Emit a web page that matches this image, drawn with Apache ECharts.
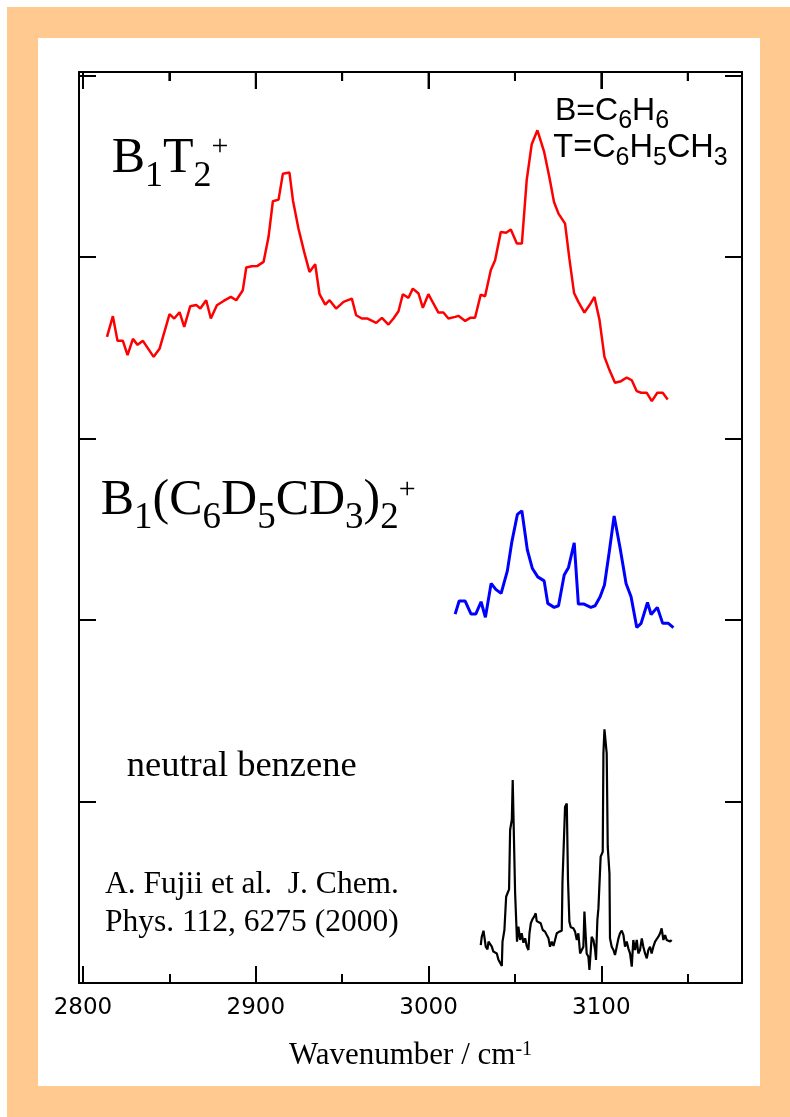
<!DOCTYPE html>
<html>
<head>
<meta charset="utf-8">
<script src="https://cdn.jsdelivr.net/npm/echarts@6/dist/echarts.min.js"></script>
<style>
  html, body { margin: 0; padding: 0; background: #ffffff; }
  #wrap { position: relative; width: 790px; height: 1117px; background: #ffffff; overflow: hidden; }
  #frame { position: absolute; left: 7px; top: 7px; width: 783px; height: 1110px; background: #FFC990; }
  #panel { position: absolute; left: 38px; top: 38px; width: 722px; height: 1048px; background: #ffffff; }
  #chart { position: absolute; left: 0; top: 0; width: 790px; height: 1117px; }
</style>
</head>
<body>
<div id="wrap">
  <div id="frame"></div>
  <div id="panel"></div>
  <div id="chart"></div>
</div>
<script>
// ---- data (wavenumber in cm^-1, intensity in offset units) ----
const xMajorTicks = [2800, 2900, 3000, 3100];
const xMinorTicks = [2850, 2950, 3050, 3150];
const yTicks = [0, 1, 2, 3, 4, 5];

const redX = [2813.9,2817.3,2820.0,2823.1,2825.8,2828.9,2831.6,2834.7,2840.9,2844.3,
  2850.1,2852.8,2855.9,2858.6,2862.1,2865.5,2867.9,2871.3,2874.0,2877.5,
  2881.4,2885.6,2888.7,2892.5,2894.5,2897.7,2901.0,2904.5,2907.4,2909.9,
  2913.2,2915.7,2919.5,2921.5,2924.7,2928.0,2931.1,2934.4,2936.9,2940.2,
  2942.7,2946.5,2950.8,2955.6,2958.1,2961.4,2964.7,2969.7,2973.0,2976.8,
  2979.7,2982.6,2985.1,2988.4,2990.9,2994.2,2996.7,2999.9,3002.8,3005.7,
  3008.6,3011.5,3015.4,3017.3,3021.2,3024.1,3026.9,3030.2,3032.7,3036.0,
  3038.5,3041.8,3044.9,3047.6,3051.1,3054.0,3056.8,3059.7,3063.0,3066.9,
  3069.9,3072.6,3075.2,3079.0,3081.5,3084.2,3086.7,3090.2,3093.1,3096.0,
  3098.9,3101.8,3104.7,3107.9,3111.4,3114.7,3117.6,3120.5,3123.0,3126.3,
  3129.2,3132.4,3135.5,3138.4];
const redY = [3.559,3.673,3.537,3.537,3.458,3.548,3.515,3.537,3.449,3.493,
  3.684,3.660,3.695,3.614,3.728,3.735,3.715,3.761,3.660,3.733,
  3.757,3.779,3.761,3.816,3.941,3.948,3.950,3.972,4.110,4.306,
  4.315,4.458,4.464,4.312,4.156,4.027,3.917,3.959,3.794,3.737,
  3.761,3.715,3.752,3.770,3.678,3.660,3.660,3.636,3.664,3.627,
  3.660,3.700,3.794,3.774,3.825,3.798,3.719,3.794,3.743,3.693,
  3.693,3.660,3.669,3.675,3.647,3.664,3.664,3.792,3.783,3.926,
  3.981,4.137,4.132,4.150,4.073,4.073,4.422,4.620,4.697,4.578,
  4.440,4.302,4.238,4.183,3.990,3.801,3.752,3.693,3.733,3.779,
  3.654,3.449,3.376,3.306,3.315,3.335,3.320,3.260,3.251,3.251,
  3.205,3.251,3.251,3.214];

const blueX = [3015.4,3017.7,3021.2,3024.6,3027.3,3030.4,3032.9,3036.2,3038.9,3042.0,
  3045.6,3048.2,3051.4,3054.0,3057.2,3060.1,3063.2,3066.9,3069.0,3072.7,
  3075.2,3078.5,3081.0,3084.3,3086.7,3090.0,3093.9,3096.4,3099.3,3101.8,
  3104.5,3107.4,3110.9,3114.3,3117.2,3120.5,3123.0,3126.7,3128.8,3132.4,
  3135.5,3138.8,3141.7];
const blueY = [2.032,2.104,2.104,2.032,2.032,2.100,2.014,2.201,2.168,2.146,
  2.270,2.430,2.581,2.601,2.384,2.283,2.237,2.215,2.091,2.069,
  2.078,2.247,2.289,2.425,2.087,2.087,2.069,2.078,2.127,2.192,
  2.370,2.572,2.393,2.201,2.127,1.958,1.981,2.096,2.030,2.069,
  1.981,1.981,1.958];

const blackX = [3030.2,3030.8,3031.8,3032.7,3033.1,3034.1,3034.7,3035.6,3036.6,3037.5,
  3038.5,3039.5,3040.4,3041.4,3042.4,3042.8,3043.3,3043.9,3044.7,3044.9,
  3045.8,3046.6,3047.2,3048.2,3048.7,3049.5,3050.1,3050.7,3051.2,3052.0,
  3053.0,3053.9,3054.9,3055.9,3056.8,3057.8,3058.4,3059.2,3060.1,3061.1,
  3062.0,3062.6,3063.6,3064.9,3066.1,3067.4,3068.4,3069.4,3070.3,3071.3,
  3072.3,3073.2,3074.2,3075.7,3077.1,3077.5,3078.4,3079.0,3080.0,3080.7,
  3081.5,3082.3,3083.8,3084.8,3085.8,3086.7,3087.7,3088.7,3089.6,3090.2,
  3091.0,3091.5,3092.5,3093.1,3093.9,3094.4,3095.4,3096.4,3096.9,3097.7,
  3098.3,3099.3,3099.6,3100.8,3101.2,3101.8,3102.7,3103.1,3103.7,3104.7,
  3105.0,3106.0,3107.0,3107.9,3108.9,3109.9,3110.8,3111.8,3112.8,3113.7,
  3114.7,3115.6,3116.6,3117.6,3118.5,3119.5,3120.5,3121.4,3122.4,3123.4,
  3124.3,3125.3,3126.3,3127.2,3128.2,3129.1,3130.1,3131.1,3132.0,3133.0,
  3134.0,3134.9,3135.9,3136.9,3137.8,3138.8,3139.8,3140.7];
const blackY = [0.209,0.255,0.288,0.296,0.200,0.185,0.228,0.218,0.200,0.173,
  0.182,0.163,0.130,0.141,0.094,0.228,0.237,0.292,0.296,0.475,
  0.497,0.516,0.843,0.901,1.118,1.112,0.494,0.494,0.228,0.310,
  0.237,0.274,0.222,0.246,0.204,0.182,0.274,0.329,0.351,0.365,
  0.384,0.341,0.347,0.329,0.292,0.283,0.264,0.246,0.200,0.228,
  0.204,0.237,0.274,0.283,0.288,0.558,0.567,0.971,0.989,0.567,
  0.338,0.307,0.301,0.283,0.237,0.274,0.163,0.154,0.200,0.393,
  0.393,0.163,0.145,0.072,0.182,0.255,0.237,0.182,0.127,0.347,
  0.411,0.420,0.696,0.723,1.265,1.397,1.390,1.265,0.751,0.604,
  0.246,0.200,0.182,0.154,0.200,0.246,0.274,0.288,0.264,0.200,
  0.228,0.191,0.163,0.090,0.237,0.182,0.237,0.163,0.182,0.246,
  0.200,0.163,0.136,0.182,0.200,0.163,0.200,0.228,0.218,0.255,
  0.274,0.301,0.237,0.264,0.237,0.246,0.228,0.237];

// ---- chart ----
const X_MIN = 2797.7, X_MAX = 3181.4, Y_MIN = 0, Y_MAX = 5.018;
const pairs = (xs, ys) => xs.map((x, i) => [x, ys[i]]);

const SERIF = 'Liberation Serif';
const SANS = 'Liberation Sans';
function txt(str, x, base, size, fam) {
  return {
    type: 'text', x: x, y: base - 0.33 * size, z: 100,
    style: { text: str, fontSize: size, fontFamily: fam, fill: '#000',
             align: 'left', verticalAlign: 'middle' }
  };
}
const mctx = document.createElement('canvas').getContext('2d');
function run(x0, base, fam, pieces) {
  let x = x0;
  const out = [];
  pieces.forEach(([t, size, dy]) => {
    out.push(txt(t, x, base + dy, size, fam));
    mctx.font = size + 'px "' + fam + '"';
    x += mctx.measureText(t).width;
  });
  return out;
}

const GRID_LEFT = 79, GRID_RIGHT = 48, PLOT_TOP = 72, CHART_W = 790;
const mainBox = { left: GRID_LEFT, right: GRID_RIGHT, top: PLOT_TOP, bottom: 134 };
const lineOn = () => ({ show: true, onZero: false, lineStyle: { color: '#000', width: 2 } });
const lineOff = () => ({ show: false, onZero: false });

function xAx(gridIndex, position, showLine, ticks, len, withLabels) {
  return {
    type: 'value', gridIndex: gridIndex, position: position,
    min: X_MIN, max: X_MAX,
    axisLine: showLine ? lineOn() : lineOff(),
    axisTick: { show: len > 0, inside: true, length: len, customValues: ticks.slice(),
                lineStyle: { color: '#000', width: 2 } },
    axisLabel: withLabels ? { show: true, customValues: ticks.slice(), margin: 14,
                formatter: v => String(v),
                fontFamily: 'DejaVu Sans', fontSize: 23, color: '#000' } : { show: false },
    splitLine: { show: false },
    name: withLabels ? '{a|Wavenumber / cm}{b|-1}' : '',
    nameLocation: 'middle', nameGap: 57,
    nameTextStyle: {
      rich: {
        a: { fontFamily: SERIF, fontSize: 31, color: '#000' },
        b: { fontFamily: SERIF, fontSize: 20, color: '#000', verticalAlign: 'top' }
      }
    }
  };
}
function yAx(gridIndex, position, show) {
  return {
    type: 'value', gridIndex: gridIndex, position: position,
    min: Y_MIN, max: Y_MAX,
    axisLine: show ? lineOn() : lineOff(),
    axisTick: { show: show, inside: true, length: 17, customValues: yTicks.slice(),
                lineStyle: { color: '#000', width: 2 } },
    axisLabel: { show: false },
    splitLine: { show: false }
  };
}

// top-frame ticks (decoration of the frame): x positions from the same linear x scale
const plotW = CHART_W - GRID_LEFT - GRID_RIGHT;
const xToPx = v => GRID_LEFT + (v - X_MIN) / (X_MAX - X_MIN) * plotW;
function topTickEls(values, lenPx) {
  return values.map(v => ({
    type: 'line', z: 100, silent: true,
    shape: { x1: xToPx(v), y1: PLOT_TOP, x2: xToPx(v), y2: PLOT_TOP + lenPx },
    style: { stroke: '#000', lineWidth: 2 }
  }));
}

const graphics = [].concat(
  topTickEls(xMajorTicks, 17),
  topTickEls(xMinorTicks, 9),
  // B1T2+
  run(111.7, 175, SERIF, [['B', 50, 0], ['1', 36, 13], ['T', 50, 0], ['2', 36, 13], ['+', 30, -17.5]]),
  // B=C6H6 / T=C6H5CH3
  run(555, 121.7, SANS, [['B=C', 32, 0], ['6', 25, 7.8], ['H', 32, 0], ['6', 25, 7.8]]),
  run(553.3, 158.3, SANS, [['T=C', 32.5, 0], ['6', 25, 7.8], ['H', 32.5, 0], ['5', 25, 7.8],
                           ['CH', 32.5, 0], ['3', 25, 7.8]]),
  // B1(C6D5CD3)2+
  run(100.7, 517.3, SERIF, [['B', 50, 0], ['1', 37, 12.7], ['(C', 50, 0], ['6', 37, 12.7],
                            ['D', 50, 0], ['5', 37, 12.7], ['CD', 50, 0], ['3', 37, 12.7],
                            [')', 50, 0], ['2', 37, 12.7], ['+', 30, -16.8]]),
  [
    txt('neutral benzene', 126.7, 778.3, 36.5, SERIF),
    txt('A. Fujii et al.  J. Chem.', 105, 895, 31.5, SERIF),
    txt('Phys. 112, 6275 (2000)', 105, 933.3, 31.5, SERIF)
  ]
);

const chart = echarts.init(document.getElementById('chart'), null, { renderer: 'canvas' });
chart.setOption({
  animation: false,
  backgroundColor: 'transparent',
  grid: [Object.assign({}, mainBox), Object.assign({}, mainBox)],
  xAxis: [
    xAx(0, 'bottom', true, xMajorTicks, 17, true),   // bottom frame, major ticks + labels
    xAx(0, 'top', true, xMajorTicks, 17, false),     // top frame line (+ ticks if drawn)
    xAx(1, 'bottom', false, xMinorTicks, 9, false),  // bottom frame, minor ticks
    xAx(1, 'top', false, xMinorTicks, 9, false)
  ],
  yAxis: [yAx(0, 'left', true), yAx(0, 'right', true), yAx(1, 'left', false), yAx(1, 'right', false)],
  series: [
    { name: 'B1T2+', type: 'line', xAxisIndex: 0, yAxisIndex: 0, data: pairs(redX, redY),
      showSymbol: false, lineStyle: { color: '#FF0000', width: 2.5 }, itemStyle: { color: '#FF0000' } },
    { name: 'B1(C6D5CD3)2+', type: 'line', xAxisIndex: 0, yAxisIndex: 0, data: pairs(blueX, blueY),
      showSymbol: false, lineStyle: { color: '#0000FF', width: 3 }, itemStyle: { color: '#0000FF' } },
    { name: 'neutral benzene', type: 'line', xAxisIndex: 0, yAxisIndex: 0, data: pairs(blackX, blackY),
      showSymbol: false, lineStyle: { color: '#000000', width: 2.2 }, itemStyle: { color: '#000000' } }
  ],
  graphic: graphics
});
</script>
</body>
</html>
